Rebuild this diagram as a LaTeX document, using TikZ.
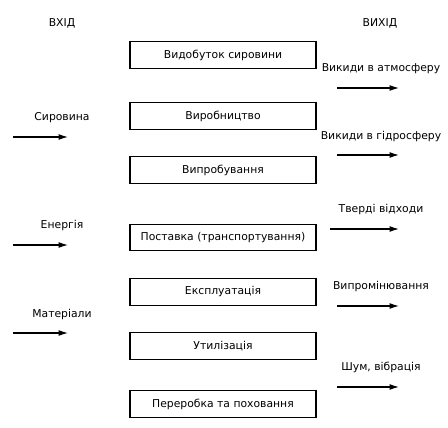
\documentclass[tikz,border=0pt]{standalone}
\usepackage{fontspec}
\setmainfont{DejaVu Sans}
\usetikzlibrary{arrows.meta}
\begin{document}
\begin{tikzpicture}[x=1pt,y=-1pt,
  stagebox/.style={draw,line width=1.4pt,minimum width=186pt,minimum height=26.5pt,inner sep=0pt,font=\fontsize{10.8}{12}\selectfont},
  lbl/.style={inner sep=0pt,font=\fontsize{10.8}{12}\selectfont},
  flow/.style={line width=1.2pt,-{Latex[length=9.5pt,width=6pt]}}]
\useasboundingbox (0,0) rectangle (448,428);
\node[lbl] (vin) at (62,23) {ВХІД};
\node[lbl] (vout) at (380,23) {ВИХІД};
\node[stagebox] (b1) at (223,55) {Видобуток сировини};
\node[stagebox] (b2) at (223,116) {Виробництво};
\node[stagebox] (b3) at (223,170) {Випробування};
\node[stagebox] (b4) at (223,237.5) {Поставка (транспортування)};
\node[stagebox] (b5) at (223,292) {Експлуатація};
\node[stagebox] (b6) at (223,346) {Утилізація};
\node[stagebox] (b7) at (223,404) {Переробка та поховання};
% left inputs
\node[lbl] (i1) at (62,118) {Сировина};
\coordinate (i1a) at (13,137); \coordinate (i1b) at (68,137);
\draw[flow] (i1a) -- (i1b);
\node[lbl] (i2) at (62,226) {Енергія};
\coordinate (i2a) at (13,245); \coordinate (i2b) at (68,245);
\draw[flow] (i2a) -- (i2b);
\node[lbl] (i3) at (62,315) {Матеріали};
\coordinate (i3a) at (13,333); \coordinate (i3b) at (68,333);
\draw[flow] (i3a) -- (i3b);
% right outputs
\node[lbl] (o1) at (381,69) {Викиди в атмосферу};
\coordinate (o1a) at (337,88); \coordinate (o1b) at (399,88);
\draw[flow] (o1a) -- (o1b);
\node[lbl] (o2) at (381,137) {Викиди в гідросферу};
\coordinate (o2a) at (337,155); \coordinate (o2b) at (399,155);
\draw[flow] (o2a) -- (o2b);
\node[lbl] (o3) at (381,210) {Тверді відходи};
\coordinate (o3a) at (330,229); \coordinate (o3b) at (399,229);
\draw[flow] (o3a) -- (o3b);
\node[lbl] (o4) at (381,287) {Випромінювання};
\coordinate (o4a) at (337,306); \coordinate (o4b) at (399,306);
\draw[flow] (o4a) -- (o4b);
\node[lbl] (o5) at (381,367) {Шум, вібрація};
\coordinate (o5a) at (337,387); \coordinate (o5b) at (399,387);
\draw[flow] (o5a) -- (o5b);
\end{tikzpicture}
\end{document}
